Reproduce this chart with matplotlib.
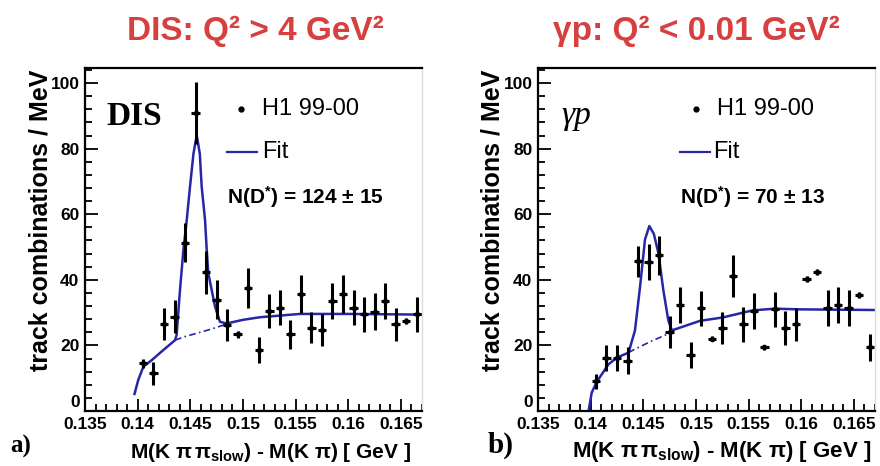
import matplotlib
matplotlib.use("Agg")
import matplotlib.pyplot as plt
from matplotlib.ticker import MultipleLocator, FixedLocator, FixedFormatter

plt.rcParams['font.family'] = ['Liberation Sans', 'DejaVu Sans']
plt.rcParams['mathtext.fontset'] = 'custom'
plt.rcParams['mathtext.rm'] = 'Liberation Sans:bold'
plt.rcParams['mathtext.bf'] = 'Liberation Sans:bold'
plt.rcParams['mathtext.it'] = 'Liberation Sans:bold'

# bin centres (GeV), same binning for both samples
bins = [0.1405, 0.1415, 0.1425, 0.1435, 0.1445, 0.1455, 0.1465, 0.1475, 0.1485,
        0.1495, 0.1505, 0.1515, 0.1525, 0.1535, 0.1545, 0.1555, 0.1565, 0.1575,
        0.1585, 0.1595, 0.1605, 0.1615, 0.1625, 0.1635, 0.1645, 0.1655, 0.1665]

# a) DIS
dis_counts = [14.5, 11.5, 26.5, 28.7, 51.3, 90.9, 42.3, 34.0, 26.2, 23.4, 37.4, 18.6, 30.5, 31.5,
              23.4, 35.6, 25.4, 24.7, 33.5, 35.6, 31.5, 29.5, 30.3, 33.5, 26.4, 27.4, 29.5]
dis_err = [1.5, 3.5, 4.9, 5.0, 6.0, 9.5, 6.5, 5.8, 4.8, 1.0, 6.1, 4.0, 5.3, 5.3,
           4.5, 5.8, 4.8, 4.9, 5.4, 5.8, 5.3, 5.3, 5.6, 5.4, 5.0, 1.0, 5.3]
dis_fit_x = [0.13970, 0.14006, 0.14054, 0.14133, 0.14244, 0.14355, 0.14370, 0.14402, 0.14434,
             0.14466, 0.14497, 0.14530, 0.14561, 0.14590, 0.14608, 0.14640, 0.14656, 0.14671,
             0.14703, 0.14735, 0.14782, 0.14846, 0.15000, 0.15162, 0.15542, 0.16000, 0.16700]
dis_fit_y = [5.2, 9.5, 13.5, 15.5, 18.6, 21.6, 23.2, 36.9, 49.0, 58.2, 68.4, 78.5, 84.1, 78.5,
             68.4, 58.2, 49.0, 42.0, 36.9, 31.8, 27.2, 26.7, 27.8, 28.6, 29.6, 29.6, 29.4]
dis_bg_x = [0.14355, 0.14450, 0.14561, 0.14680, 0.14846]
dis_bg_y = [21.6, 22.7, 23.7, 24.8, 26.5]

# b) photoproduction
gp_counts = [9.0, 16.2, 16.2, 15.4, 45.6, 45.4, 47.5, 24.1, 32.3, 17.1, 31.3, 22.1, 25.3, 41.2,
             26.4, 30.5, 19.4, 31.0, 25.3, 26.4, 40.2, 42.4, 31.3, 32.3, 31.5, 35.4, 19.4]
gp_err = [2.3, 4.0, 4.0, 4.0, 4.7, 5.5, 5.9, 4.9, 5.4, 4.0, 5.4, 0.8, 5.0, 6.3,
          5.3, 5.4, 0.8, 5.4, 5.2, 5.1, 1.0, 0.8, 5.5, 5.4, 5.5, 0.8, 4.0]
gp_fit_x = [0.13980, 0.14010, 0.14060, 0.14168, 0.14250, 0.14360, 0.14421, 0.14469, 0.14516,
            0.14557, 0.14600, 0.14643, 0.14690, 0.14737, 0.14770, 0.14810, 0.15039, 0.15250,
            0.15540, 0.15750, 0.15980, 0.16700]
gp_fit_y = [0.0, 5.6, 9.0, 14.2, 16.3, 17.8, 24.6, 37.9, 52.3, 56.4, 54.0, 48.2, 36.9, 27.7,
            24.6, 25.0, 27.5, 28.5, 30.7, 31.2, 31.0, 30.8]
gp_bg_x = [0.14360, 0.14410, 0.14570, 0.14720, 0.14810]
gp_bg_y = [17.8, 18.7, 21.2, 23.3, 25.0]

xticks = [0.135, 0.14, 0.145, 0.15, 0.155, 0.16, 0.165]
xtick_labels = ['0.135', '0.14', '0.145', '0.15', '0.155', '0.16', '0.165']
yticks = [0, 20, 40, 60, 80, 100]
# the "0" is drawn separately, sitting just above the x axis
ytick_labels = ['', '20', '40', '60', '80', '100']

red = '#d84040'
fitblue = '#2626a6'

fig = plt.figure(figsize=(8.8, 4.66), dpi=100)
ax1 = fig.add_axes([85 / 880, 1 - 411 / 466, 337 / 880, 343 / 466])
ax2 = fig.add_axes([538 / 880, 1 - 411 / 466, 337 / 880, 343 / 466])


def style(ax):
    ax.set_xlim(0.135, 0.167)
    ax.set_ylim(0, 104.6)
    ax.xaxis.set_major_locator(FixedLocator(xticks))
    ax.xaxis.set_major_formatter(FixedFormatter(xtick_labels))
    ax.xaxis.set_minor_locator(MultipleLocator(0.001))
    ax.yaxis.set_major_locator(FixedLocator(yticks))
    ax.yaxis.set_major_formatter(FixedFormatter(ytick_labels))
    ax.yaxis.set_minor_locator(MultipleLocator(4))
    ax.tick_params(which='both', direction='in', top=False, right=False, width=1.3)
    ax.tick_params(which='major', length=9, labelsize=12.5, pad=4)
    ax.tick_params(which='minor', length=5)
    for lab in ax.get_xticklabels() + ax.get_yticklabels():
        lab.set_fontweight('bold')
    ax.text(-0.014, 0.3, '0', transform=ax.get_yaxis_transform(), ha='right', va='bottom',
            fontsize=12.5, fontweight='bold')
    for s in ['left', 'top', 'bottom']:
        ax.spines[s].set_linewidth(1.6)
    ax.spines['right'].set_color('#dddddd')
    ax.spines['right'].set_linewidth(1.0)


for ax, counts, err, fx, fy, bx, by in [
        (ax1, dis_counts, dis_err, dis_fit_x, dis_fit_y, dis_bg_x, dis_bg_y),
        (ax2, gp_counts, gp_err, gp_fit_x, gp_fit_y, gp_bg_x, gp_bg_y)]:
    style(ax)
    ax.plot(fx, fy, color=fitblue, lw=1.8, zorder=2)
    ax.plot(bx, by, color=fitblue, lw=1.2, ls=(0, (4, 2, 1, 2)), zorder=2)
    ax.errorbar(bins, counts, yerr=err, xerr=0.0004, fmt='o', ms=3, color='black',
                elinewidth=2.2, capsize=0, zorder=3)

# in-plot texts, left panel
ax1.text(0.065, 0.86, 'DIS', transform=ax1.transAxes, family='Liberation Serif',
         fontweight='bold', fontsize=24, va='center')
ax1.plot([0.463], [0.88], 'o', ms=3.5, color='black', transform=ax1.transAxes)
ax1.text(0.525, 0.88, 'H1 99-00', transform=ax1.transAxes, fontsize=17, va='center')
ax1.plot([0.42, 0.51], [0.755, 0.755], color=fitblue, lw=1.6, transform=ax1.transAxes)
ax1.text(0.525, 0.755, 'Fit', transform=ax1.transAxes, fontsize=17, va='center')
ax1.text(0.42, 0.625, 'N(D$^{*}$) = 124 ± 15', transform=ax1.transAxes, fontsize=15,
         fontweight='bold', va='center')

# in-plot texts, right panel
ax2.text(0.07, 0.86, 'γp', transform=ax2.transAxes, family='Liberation Serif',
         style='italic', fontsize=24, va='center')
ax2.plot([0.47], [0.88], 'o', ms=3.5, color='black', transform=ax2.transAxes)
ax2.text(0.53, 0.88, 'H1 99-00', transform=ax2.transAxes, fontsize=17, va='center')
ax2.plot([0.42, 0.51], [0.755, 0.755], color=fitblue, lw=1.6, transform=ax2.transAxes)
ax2.text(0.52, 0.755, 'Fit', transform=ax2.transAxes, fontsize=17, va='center')
ax2.text(0.42, 0.625, 'N(D$^{*}$) = 70 ± 13', transform=ax2.transAxes, fontsize=15,
         fontweight='bold', va='center')

# titles, axis labels, panel labels
fig.text(255 / 880, 1 - 31 / 466, 'DIS: Q² > 4 GeV²', color=red, fontsize=24,
         fontweight='bold', ha='center', va='center')
fig.text(696 / 880, 1 - 31 / 466, 'γp: Q² < 0.01 GeV²', color=red, fontsize=24,
         fontweight='bold', ha='center', va='center')

xlab = r'M(K $\pi\,\pi_{\rm slow}$) - M(K $\pi$) [ GeV ]'
fig.text(270 / 880, 1 - 453 / 466, xlab, fontsize=15, fontweight='bold',
         ha='center', va='center')
fig.text(722 / 880, 1 - 452 / 466, xlab, fontsize=16, fontweight='bold',
         ha='center', va='center')

ylab = 'track combinations / MeV'
fig.text(41 / 880, 1 - 220 / 466, ylab, fontsize=18, fontweight='bold',
         rotation=90, ha='center', va='center')
fig.text(493 / 880, 1 - 220 / 466, ylab, fontsize=18, fontweight='bold',
         rotation=90, ha='center', va='center')

fig.text(10 / 880, 1 - 446 / 466, 'a)', family='Liberation Serif', fontweight='bold',
         fontsize=18, va='center')
fig.text(488 / 880, 1 - 445 / 466, 'b)', family='Liberation Serif', fontweight='bold',
         fontsize=21, va='center')

fig.savefig('out.png', dpi=100)
